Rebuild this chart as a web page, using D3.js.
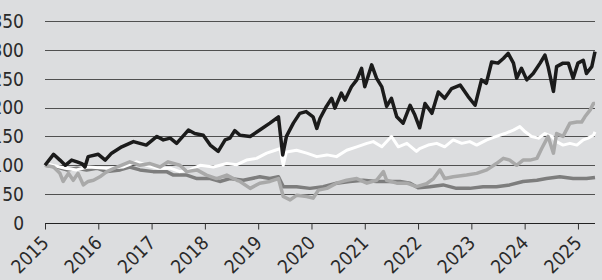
<!DOCTYPE html>
<html>
<head>
<meta charset="utf-8">
<script src="https://cdn.jsdelivr.net/npm/d3@7"></script>
<style>
  body { margin: 0; background: #dcdddf; }
  svg { display: block; }
  .tick-label { font-family: "Liberation Sans Narrow", "DejaVu Sans Condensed", sans-serif; font-size: 19px; fill: #2a2a2a; }
</style>
</head>
<body>
<div id="chart"></div>
<script>
// [year, value]
let blackSeries = [
  [2015.0,100],[2015.16,119],[2015.28,109],[2015.38,100],[2015.5,109],[2015.6,106],[2015.69,103],[2015.75,97],
  [2015.81,115],[2016.0,119],[2016.13,109],[2016.25,121],[2016.44,132],[2016.66,141],[2016.9,135],[2017.1,150],
  [2017.22,144],[2017.35,147],[2017.47,138],[2017.69,161],[2017.81,155],[2017.97,152],[2018.1,135],[2018.25,124],
  [2018.38,144],[2018.47,147],[2018.56,160],[2018.66,152],[2018.85,150],[2019.03,161],[2019.22,173],[2019.38,184],
  [2019.46,118],[2019.53,150],[2019.66,173],[2019.78,190],[2019.9,193],[2020.03,184],[2020.1,164],[2020.16,181],
  [2020.28,202],[2020.38,216],[2020.44,199],[2020.56,225],[2020.63,213],[2020.75,236],[2020.85,248],[2020.94,268],
  [2021.0,236],[2021.13,274],[2021.22,251],[2021.32,236],[2021.41,202],[2021.5,216],[2021.6,184],[2021.72,173],
  [2021.85,204],[2021.94,187],[2022.03,165],[2022.13,207],[2022.26,190],[2022.38,227],[2022.5,216],[2022.63,233],
  [2022.79,239],[2022.94,219],[2023.07,204],[2023.19,248],[2023.28,242],[2023.38,279],[2023.5,277],[2023.6,285],
  [2023.69,294],[2023.79,277],[2023.85,251],[2023.94,268],[2024.04,248],[2024.16,259],[2024.29,277],[2024.38,291],
  [2024.44,271],[2024.54,228],[2024.6,271],[2024.72,277],[2024.82,277],[2024.91,251],[2025.0,277],[2025.1,282],
  [2025.16,259],[2025.26,271],[2025.32,297]
];
let whiteSeries = [
  [2015.0,103],[2015.38,95],[2015.59,92],[2015.81,97],[2016.16,95],[2016.46,97],[2016.72,106],[2016.91,100],
  [2017.13,95],[2017.35,95],[2017.53,89],[2017.72,92],[2017.91,100],[2018.16,97],[2018.41,103],[2018.6,101],
  [2018.78,109],[2018.97,112],[2019.16,121],[2019.32,126],[2019.41,129],[2019.47,100],[2019.53,123],[2019.72,126],
  [2019.91,121],[2020.1,115],[2020.29,118],[2020.47,115],[2020.66,126],[2020.85,132],[2021.04,138],[2021.16,141],
  [2021.32,132],[2021.5,150],[2021.63,132],[2021.79,138],[2021.97,124],[2022.03,129],[2022.19,135],[2022.35,138],
  [2022.5,132],[2022.66,144],[2022.82,138],[2022.97,141],[2023.1,135],[2023.29,144],[2023.47,150],[2023.63,155],
  [2023.79,161],[2023.91,167],[2024.01,158],[2024.13,150],[2024.26,147],[2024.38,155],[2024.51,150],[2024.6,141],
  [2024.72,135],[2024.85,138],[2024.98,135],[2025.1,144],[2025.19,147],[2025.29,152],[2025.32,158]
];
let lightGreySeries = [
  [2015.0,100],[2015.16,97],[2015.28,86],[2015.34,72],[2015.44,86],[2015.53,74],[2015.62,86],[2015.72,66],
  [2015.81,72],[2015.91,74],[2016.03,80],[2016.16,89],[2016.35,97],[2016.59,106],[2016.78,100],[2016.97,103],
  [2017.16,97],[2017.31,106],[2017.53,100],[2017.66,89],[2017.85,92],[2018.03,83],[2018.22,77],[2018.41,83],
  [2018.6,74],[2018.66,72],[2018.85,60],[2019.03,69],[2019.22,72],[2019.38,77],[2019.47,46],[2019.6,40],
  [2019.72,48],[2019.91,46],[2020.03,43],[2020.13,57],[2020.29,60],[2020.47,69],[2020.66,74],[2020.85,77],
  [2021.04,69],[2021.22,74],[2021.35,89],[2021.41,74],[2021.6,69],[2021.79,69],[2021.97,63],[2022.16,68],
  [2022.29,77],[2022.41,92],[2022.5,77],[2022.66,80],[2022.91,83],[2023.1,86],[2023.29,92],[2023.47,103],
  [2023.6,112],[2023.72,109],[2023.85,100],[2023.97,109],[2024.1,109],[2024.23,112],[2024.32,129],[2024.44,150],
  [2024.54,121],[2024.6,155],[2024.72,150],[2024.85,173],[2024.98,175],[2025.07,175],[2025.13,184],[2025.23,196],
  [2025.29,207],[2025.32,207]
];
let darkGreySeries = [
  [2015.0,100],[2015.22,97],[2015.41,92],[2015.6,95],[2015.78,92],[2015.97,95],[2016.16,89],[2016.41,92],
  [2016.59,97],[2016.78,92],[2017.03,89],[2017.28,89],[2017.41,83],[2017.66,83],[2017.85,77],[2018.1,77],
  [2018.28,72],[2018.47,77],[2018.72,74],[2019.03,80],[2019.22,77],[2019.38,80],[2019.47,63],[2019.72,63],
  [2019.97,60],[2020.22,63],[2020.47,69],[2020.72,72],[2020.97,74],[2021.22,72],[2021.47,72],[2021.66,72],
  [2021.85,69],[2022.0,61],[2022.22,63],[2022.47,66],[2022.72,60],[2022.97,60],[2023.22,63],[2023.47,63],
  [2023.72,66],[2023.97,72],[2024.23,74],[2024.41,77],[2024.66,80],[2024.91,77],[2025.16,77],[2025.32,79]
];
let yTicks = [0, 50, 100, 150, 200, 250, 300, 350];
let xTicks = [2015, 2016, 2017, 2018, 2019, 2020, 2021, 2022, 2023, 2024, 2025];

let width = 602, height = 280;
let margin = {"top": 21, "left": 45, "right": 7, "bottom": 57};
let endYear = 2025.32;

let svg = d3.select("#chart").append("svg").attr("width", width).attr("height", height);

let x = d3.scaleLinear().domain([2015, endYear]).range([margin.left, width - margin.right]);
let y = d3.scaleLinear().domain([0, 350]).range([height - margin.bottom, margin.top]);

// grid lines
svg.append("g").selectAll("line").data(yTicks.filter(d => d > 0)).enter().append("line")
  .attr("x1", x.range()[0]).attr("x2", x.range()[1])
  .attr("y1", d => Math.round(y(d)) + 0.5).attr("y2", d => Math.round(y(d)) + 0.5)
  .attr("stroke", "#505050").attr("stroke-width", 1);

// y labels
svg.append("g").selectAll("text").data(yTicks).enter().append("text")
  .attr("class", "tick-label")
  .attr("x", 24).attr("y", d => y(d)).attr("dy", "0.36em")
  .attr("text-anchor", "end")
  .text(d => d);

// x axis
let xAxis = d3.axisBottom(x).tickValues(xTicks).tickSize(6).tickFormat("");
let gx = svg.append("g").attr("transform", "translate(0," + (Math.round(y(0)) + 0.5) + ")").call(xAxis);
gx.select(".domain").attr("stroke", "#222").attr("d", "M" + x.range()[0] + ",0H" + x.range()[1]);
gx.selectAll(".tick line").attr("stroke", "#333");

svg.append("g").selectAll("text").data(xTicks).enter().append("text")
  .attr("class", "tick-label")
  .attr("text-anchor", "end")
  .attr("transform", d => "translate(" + (x(d) + 5) + "," + (y(0) + 21) + ") rotate(-45)")
  .text(d => d);

// series
let line = d3.line().x(d => x(d[0])).y(d => y(d[1]));
let series = [
  {"data": darkGreySeries, "color": "#7d7d7d", "w": 3.5},
  {"data": whiteSeries, "color": "#ffffff", "w": 3},
  {"data": lightGreySeries, "color": "#a9a9a9", "w": 3.5},
  {"data": blackSeries, "color": "#1b1b1b", "w": 3.5}
];
svg.append("g").selectAll("path").data(series).enter().append("path")
  .attr("d", s => line(s.data))
  .attr("fill", "none")
  .attr("stroke", s => s.color)
  .attr("stroke-width", s => s.w)
  .attr("stroke-linejoin", "round");
</script>
</body>
</html>
